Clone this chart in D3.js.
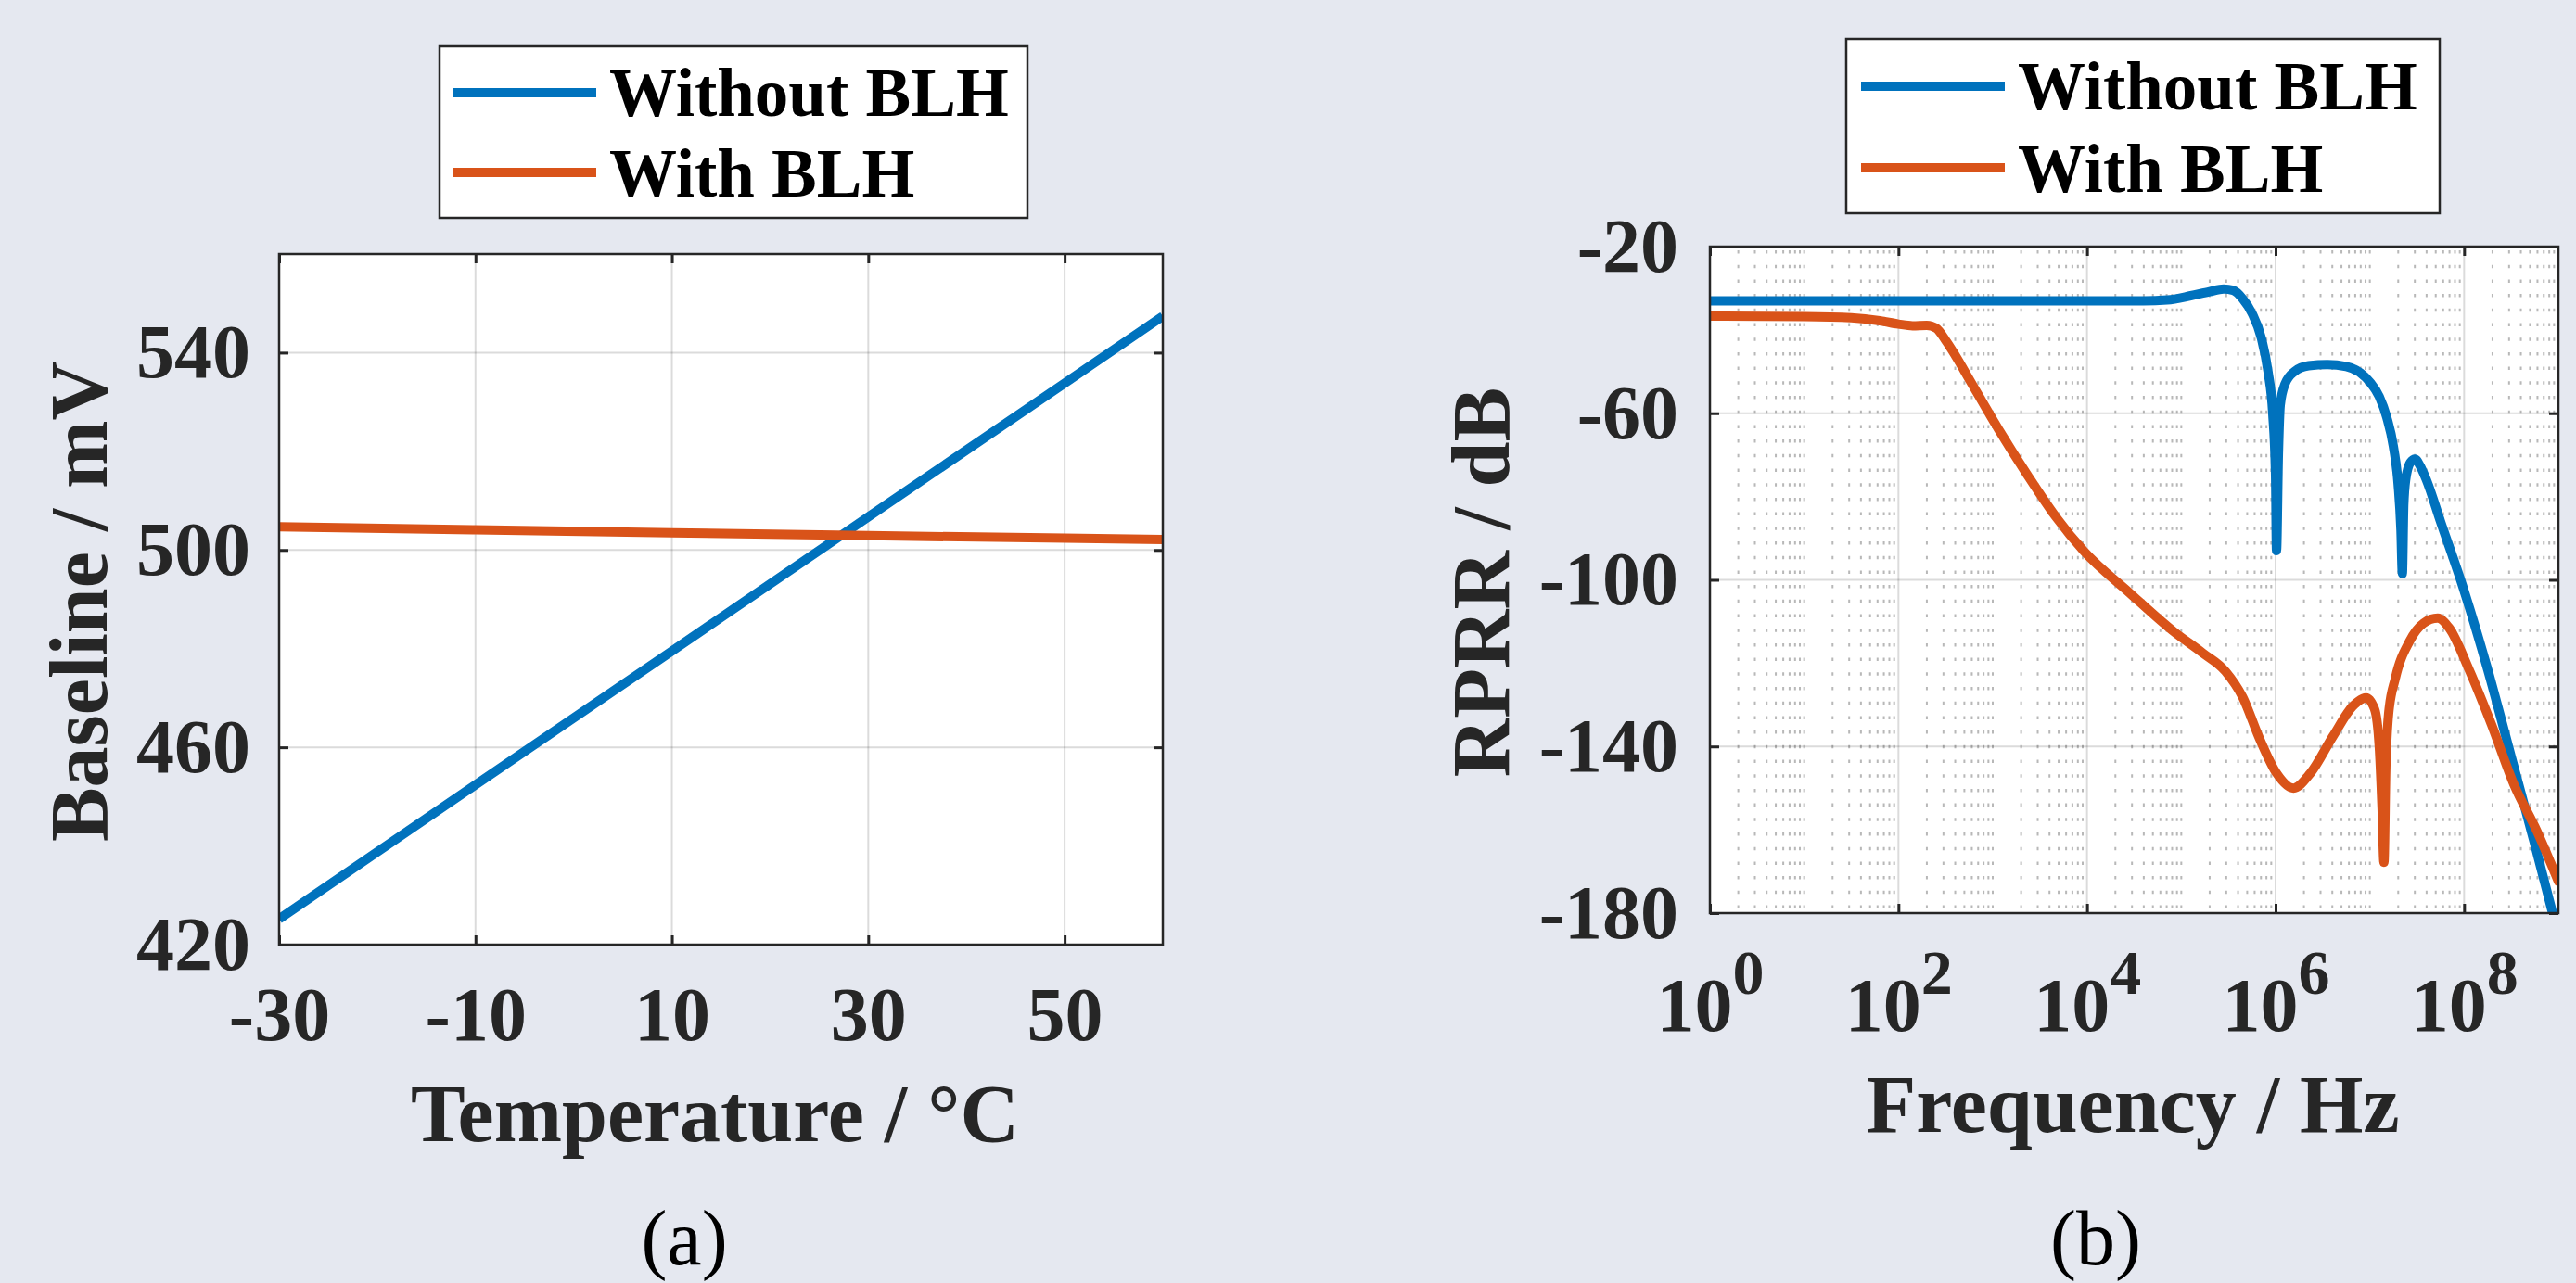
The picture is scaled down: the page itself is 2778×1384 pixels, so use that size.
<!DOCTYPE html>
<html>
<head>
<meta charset="utf-8">
<script src="https://cdn.jsdelivr.net/npm/d3@7"></script>
<style>
  html, body { margin: 0; padding: 0; background: #e5e8f0; }
  svg { display: block; }
  text { font-family: "Liberation Serif", "Times New Roman", serif; }
</style>
</head>
<body>
<script>
const W = 2778, H = 1384;

// ---- data (a): baseline vs temperature
const tempC = [-30, -10, 10, 30, 50, 60];
const baseWithout = [425.2, 452.4, 479.5, 506.7, 533.8, 547.4];
const baseWith = [504.7, 504.1, 503.5, 502.9, 502.4, 502.1];
const tempTicks = [-30, -10, 10, 30, 50];
const baseTicks = [420, 460, 500, 540];

// ---- data (b): RPRR vs frequency (frequency as log10 exponent)
const blueExp = [0, 1, 2, 3, 4, 4.6, 4.85, 5.1, 5.3, 5.45, 5.55, 5.65, 5.75, 5.85, 5.92, 5.97, 6.0, 6.01, 6.03, 6.05, 6.1, 6.2, 6.35, 6.55, 6.75, 6.9, 7.0, 7.1, 7.18, 7.25, 7.3, 7.33, 7.345, 7.36, 7.38, 7.43, 7.48, 7.53, 7.6, 7.75, 8.0, 8.25, 8.5, 8.75, 8.95];
const blueDb = [-33, -33, -33, -33, -33, -33, -32.8, -31.8, -30.8, -30.2, -30.5, -32.5, -36, -42, -50, -60, -75, -93, -70, -58, -53, -50, -48.6, -48.3, -48.8, -50.3, -52.5, -56, -61, -68, -77, -88, -98.5, -82, -76, -71.8, -71, -72.5, -76, -86, -102.6, -121.5, -142.5, -163.5, -181];
const orangeExp = [0, 1, 1.5, 1.8, 2.0, 2.15, 2.3, 2.4, 2.5, 2.6, 2.76, 3.06, 3.37, 3.67, 3.97, 4.45, 4.93, 5.23, 5.47, 5.65, 5.83, 6.01, 6.19, 6.37, 6.61, 6.82, 6.96, 7.05, 7.1, 7.13, 7.15, 7.17, 7.2, 7.27, 7.42, 7.57, 7.72, 7.84, 8.05, 8.29, 8.53, 8.77, 9.0];
const orangeDb = [-36.7, -36.8, -37.1, -37.8, -38.6, -39.0, -38.9, -39.6, -42.5, -46, -52.2, -63.8, -74.9, -84.9, -93.2, -103.1, -112.6, -117.6, -122, -128.1, -138.1, -146.4, -150, -146.4, -137.5, -130.3, -128.3, -131, -140, -155, -167.8, -145, -132, -123.7, -114.8, -110.4, -109.2, -111.5, -121.4, -134.7, -149.2, -160.2, -172.4];
const freqTicks = [1e0, 1e2, 1e4, 1e6, 1e8];
const freqExpLabels = ["0", "2", "4", "6", "8"];
const dbTicks = [-180, -140, -100, -60, -20];

const seriesNames = ["Without BLH", "With BLH"];
const colors = ["#0072bd", "#d95319"];
const axisColor = "#262626";

// matlab prints a plain hyphen, not the unicode minus d3 uses
const plain = d => String(d);

const svg = d3.select("body").append("svg")
  .attr("width", W).attr("height", H);

svg.append("rect").attr("width", W).attr("height", H).attr("fill", "#e5e8f0");

function panel(opts) {
  const { x0, x1, y0, y1, id } = opts;
  const g = svg.append("g");
  g.append("rect")
    .attr("x", x0).attr("y", y0)
    .attr("width", x1 - x0).attr("height", y1 - y0)
    .attr("fill", "#fff");
  svg.append("clipPath").attr("id", id)
    .append("rect")
    .attr("x", x0).attr("y", y0)
    .attr("width", x1 - x0).attr("height", y1 - y0);
  return g;
}

function styleAxis(sel, size) {
  sel.select(".domain").remove();
  sel.selectAll(".tick line").attr("stroke", axisColor).attr("stroke-width", 3);
  sel.selectAll(".tick text")
    .attr("fill", axisColor)
    .attr("font-size", size)
    .attr("font-weight", "bold");
}

// ================= panel (a) =================
const A = { x0: 301, x1: 1254, y0: 274, y1: 1019 };
const xA = d3.scaleLinear().domain([-30, 60]).range([A.x0, A.x1]);
const yA = d3.scaleLinear().domain([420, 560]).range([A.y1, A.y0]);
const gA = panel({ ...A, id: "clipA" });

// grid
gA.selectAll(".vgrid").data(tempTicks.slice(1)).join("line")
  .attr("x1", d => xA(d)).attr("x2", d => xA(d))
  .attr("y1", A.y0).attr("y2", A.y1)
  .attr("stroke", "#000").attr("stroke-opacity", 0.14).attr("stroke-width", 2);
gA.selectAll(".hgrid").data(baseTicks.slice(1)).join("line")
  .attr("x1", A.x0).attr("x2", A.x1)
  .attr("y1", d => yA(d)).attr("y2", d => yA(d))
  .attr("stroke", "#000").attr("stroke-opacity", 0.14).attr("stroke-width", 2);

const lineA = d3.line().x((d, i) => xA(tempC[i])).y(d => yA(d));
[baseWithout, baseWith].forEach((s, k) => {
  gA.append("path").datum(s)
    .attr("clip-path", "url(#clipA)")
    .attr("fill", "none").attr("stroke", colors[k]).attr("stroke-width", 10)
    .attr("d", lineA);
});

gA.append("g").attr("transform", `translate(0,${A.y1})`)
  .call(d3.axisBottom(xA).tickValues(tempTicks).tickFormat(plain).tickSizeInner(-10).tickSizeOuter(0).tickPadding(45))
  .call(s => styleAxis(s, 82));
gA.append("g").attr("transform", `translate(0,${A.y0})`)
  .call(d3.axisTop(xA).tickValues(tempTicks).tickSizeInner(-10).tickSizeOuter(0).tickFormat(""))
  .call(s => styleAxis(s, 82));
gA.append("g").attr("transform", `translate(${A.x0},0)`)
  .call(d3.axisLeft(yA).tickValues(baseTicks).tickFormat(plain).tickSizeInner(-10).tickSizeOuter(0).tickPadding(31))
  .call(s => styleAxis(s, 82));
gA.append("g").attr("transform", `translate(${A.x1},0)`)
  .call(d3.axisRight(yA).tickValues(baseTicks).tickSizeInner(-10).tickSizeOuter(0).tickFormat(""))
  .call(s => styleAxis(s, 82));

gA.append("rect")
  .attr("x", A.x0).attr("y", A.y0)
  .attr("width", A.x1 - A.x0).attr("height", A.y1 - A.y0)
  .attr("fill", "none").attr("stroke", axisColor).attr("stroke-width", 2.5);

svg.append("text").attr("x", 771).attr("y", 1231)
  .attr("text-anchor", "middle").attr("font-size", 88).attr("font-weight", "bold")
  .attr("fill", axisColor).text("Temperature / °C");
svg.append("text").attr("transform", "translate(115,649) rotate(-90)")
  .attr("text-anchor", "middle").attr("font-size", 88).attr("font-weight", "bold")
  .attr("fill", axisColor).text("Baseline / mV");
svg.append("text").attr("x", 738).attr("y", 1364)
  .attr("text-anchor", "middle").attr("font-size", 84)
  .attr("fill", "#000").text("(a)");

// ================= panel (b) =================
const B = { x0: 1844, x1: 2759, y0: 266, y1: 985 };
const xB = d3.scaleLog().domain([1, 1e9]).range([B.x0, B.x1]);
const yB = d3.scaleLinear().domain([-180, -20]).range([B.y1, B.y0]);
const gB = panel({ ...B, id: "clipB" });

// minor dotted grid at every log tick that is not a labelled decade
const minorB = xB.ticks().filter(v => v > 1 && !freqTicks.includes(v) && v < 1e9);
gB.selectAll(".mgrid").data(minorB).join("line")
  .attr("x1", d => xB(d)).attr("x2", d => xB(d))
  .attr("y1", B.y0 + 4).attr("y2", B.y1)
  .attr("stroke", "#b8b8b8").attr("stroke-width", 2)
  .attr("stroke-dasharray", "3.5,12.2");
gB.selectAll(".vgrid").data(freqTicks.slice(1)).join("line")
  .attr("x1", d => xB(d)).attr("x2", d => xB(d))
  .attr("y1", B.y0).attr("y2", B.y1)
  .attr("stroke", "#000").attr("stroke-opacity", 0.14).attr("stroke-width", 2);
gB.selectAll(".hgrid").data(dbTicks.slice(1, -1)).join("line")
  .attr("x1", B.x0).attr("x2", B.x1)
  .attr("y1", d => yB(d)).attr("y2", d => yB(d))
  .attr("stroke", "#000").attr("stroke-opacity", 0.14).attr("stroke-width", 2);

const lineB = d3.line()
  .x(d => xB(Math.pow(10, d[0])))
  .y(d => yB(d[1]))
  .curve(d3.curveMonotoneX);
[[blueExp, blueDb], [orangeExp, orangeDb]].forEach(([ex, db], k) => {
  gB.append("path").datum(ex.map((e, i) => [e, db[i]]))
    .attr("clip-path", "url(#clipB)")
    .attr("fill", "none").attr("stroke", colors[k]).attr("stroke-width", 10)
    .attr("stroke-linejoin", "round").attr("stroke-linecap", "round")
    .attr("d", lineB);
});

const xAxisB = gB.append("g").attr("transform", `translate(0,${B.y1})`)
  .call(d3.axisBottom(xB).tickValues(freqTicks).tickSizeInner(-10).tickSizeOuter(0).tickPadding(70).tickFormat(""))
  .call(s => styleAxis(s, 82));
xAxisB.selectAll(".tick text").each(function (d, i) {
  const t = d3.select(this).attr("dy", null).attr("y", 127);
  t.append("tspan").text("10");
  t.append("tspan").attr("font-size", 68).attr("dy", -40).text(freqExpLabels[i]);
});
gB.append("g").attr("transform", `translate(0,${B.y0})`)
  .call(d3.axisTop(xB).tickValues(freqTicks).tickSizeInner(-10).tickSizeOuter(0).tickFormat(""))
  .call(s => styleAxis(s, 82));
gB.append("g").attr("transform", `translate(${B.x0},0)`)
  .call(d3.axisLeft(yB).tickValues(dbTicks).tickFormat(plain).tickSizeInner(-10).tickSizeOuter(0).tickPadding(34))
  .call(s => styleAxis(s, 82));
gB.append("g").attr("transform", `translate(${B.x1},0)`)
  .call(d3.axisRight(yB).tickValues(dbTicks).tickSizeInner(-10).tickSizeOuter(0).tickFormat(""))
  .call(s => styleAxis(s, 82));

gB.append("rect")
  .attr("x", B.x0).attr("y", B.y0)
  .attr("width", B.x1 - B.x0).attr("height", B.y1 - B.y0)
  .attr("fill", "none").attr("stroke", axisColor).attr("stroke-width", 2.5);

svg.append("text").attr("x", 2300).attr("y", 1221)
  .attr("text-anchor", "middle").attr("font-size", 88).attr("font-weight", "bold")
  .attr("fill", axisColor).text("Frequency / Hz");
svg.append("text").attr("transform", "translate(1627,628) rotate(-90)")
  .attr("text-anchor", "middle").attr("font-size", 88).attr("font-weight", "bold")
  .attr("fill", axisColor).text("RPRR / dB");
svg.append("text").attr("x", 2260).attr("y", 1364)
  .attr("text-anchor", "middle").attr("font-size", 84)
  .attr("fill", "#000").text("(b)");

// ================= legends =================
function legend(box) {
  const g = svg.append("g");
  g.append("rect")
    .attr("x", box.x).attr("y", box.y).attr("width", box.w).attr("height", box.h)
    .attr("fill", "#fff").attr("stroke", axisColor).attr("stroke-width", 2.5);
  seriesNames.forEach((name, i) => {
    const ly = box.lineY[i];
    g.append("line")
      .attr("x1", box.lx0).attr("x2", box.lx1).attr("y1", ly).attr("y2", ly)
      .attr("stroke", colors[i]).attr("stroke-width", 10);
    g.append("text")
      .attr("x", box.tx).attr("y", box.baseY[i])
      .attr("font-size", 73).attr("font-weight", "bold").attr("fill", "#000")
      .text(name);
  });
}
legend({ x: 474, y: 50, w: 634, h: 185, lx0: 489, lx1: 643, tx: 657, lineY: [100, 186], baseY: [125, 212] });
legend({ x: 1991, y: 42, w: 640, h: 188, lx0: 2007, lx1: 2162, tx: 2176, lineY: [93, 181], baseY: [118, 207] });
</script>
</body>
</html>
